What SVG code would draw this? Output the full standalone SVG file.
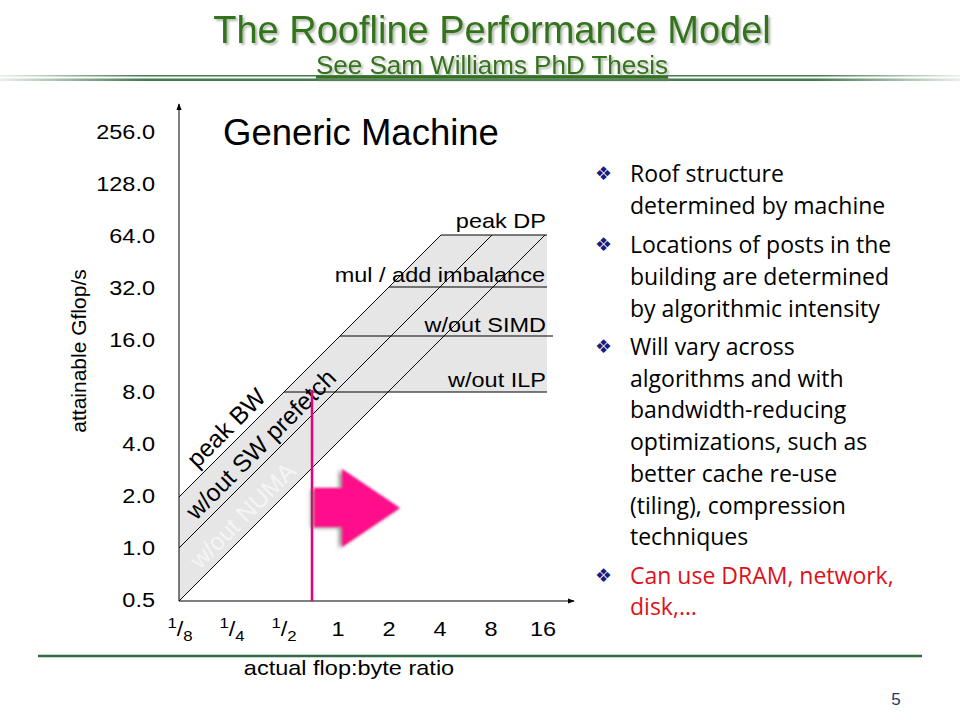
<svg xmlns="http://www.w3.org/2000/svg" width="960" height="720" viewBox="0 0 960 720">
<defs>
<style>
.ct{font-family:"Liberation Sans",Arial,sans-serif;font-size:21px;fill:#000}
.rt{font-family:"Liberation Sans",Arial,sans-serif;font-size:24.5px;fill:#000}
.bl{font-family:"Open Sans","Noto Sans",sans-serif;font-size:23px;fill:#000}
.bu{font-family:"DejaVu Sans",sans-serif;font-size:19px;fill:#1a1a80}
.ln{stroke:#000;stroke-width:1;fill:none}
.ttl{font-family:"Liberation Sans",Arial,sans-serif;text-anchor:middle}
</style>
<linearGradient id="hg" x1="0" y1="0" x2="1" y2="0">
<stop offset="0" stop-color="#2f6b3a" stop-opacity="0.1"/>
<stop offset="0.15" stop-color="#2f6b3a" stop-opacity="0.9"/>
<stop offset="0.85" stop-color="#2f6b3a" stop-opacity="0.9"/>
<stop offset="1" stop-color="#2f6b3a" stop-opacity="0.1"/>
</linearGradient>
<marker id="ah" viewBox="0 0 8 8" refX="7" refY="4" markerWidth="7" markerHeight="7" orient="auto" markerUnits="userSpaceOnUse">
<path d="M0,1 L8,4 L0,7 Z" fill="#000"/>
</marker>
<filter id="soft" x="-20%" y="-20%" width="140%" height="140%">
<feGaussianBlur in="SourceAlpha" stdDeviation="2"/>
<feOffset dx="-3" dy="1" result="b"/>
<feFlood flood-color="#555" flood-opacity="0.7"/>
<feComposite in2="b" operator="in" result="s"/>
<feGaussianBlur in="SourceGraphic" stdDeviation="0.8" result="g"/>
<feMerge><feMergeNode in="s"/><feMergeNode in="g"/></feMerge>
</filter>
<filter id="tsh" x="-5%" y="-20%" width="110%" height="140%">
<feGaussianBlur in="SourceAlpha" stdDeviation="1"/>
<feOffset dx="1.5" dy="1.5" result="b"/>
<feFlood flood-color="#7a8a70" flood-opacity="0.6"/>
<feComposite in2="b" operator="in" result="s"/>
<feMerge><feMergeNode in="s"/><feMergeNode in="SourceGraphic"/></feMerge>
</filter>
</defs>
<rect width="960" height="720" fill="#fff"/>

<g id="header">
<text class="ttl" x="492" y="43" font-size="38" fill="#33731a" filter="url(#tsh)">The Roofline Performance Model</text>
<rect x="0" y="75" width="960" height="1.5" fill="url(#hg)"/>
<rect x="0" y="78.5" width="960" height="2.5" fill="url(#hg)"/>
<text class="ttl" x="492" y="74" font-size="26" fill="#33731a" text-decoration="underline" filter="url(#tsh)">See Sam Williams PhD Thesis</text>
</g>

<g id="chart-area">
<polygon points="179,497 441,235 547,235 547,392 388,392 179,601" fill="#e6e6e6"/>
</g>

<g id="connectors">
<line class="ln" x1="179" y1="601" x2="179" y2="104" marker-end="url(#ah)"/>
<line class="ln" x1="179" y1="601" x2="574" y2="601" marker-end="url(#ah)"/>
<line class="ln" x1="179" y1="497" x2="441" y2="235"/>
<line class="ln" x1="179" y1="548" x2="492" y2="235"/>
<line class="ln" x1="179" y1="601" x2="545" y2="235"/>
<line class="ln" x1="441" y1="235" x2="547" y2="235"/>
<line class="ln" x1="389" y1="287" x2="547" y2="287"/>
<line class="ln" x1="340" y1="336" x2="553" y2="336"/>
<line class="ln" x1="284" y1="392" x2="547" y2="392"/>
</g>

<g id="roof-labels">
<text class="ct" text-anchor="end" transform="translate(546,228) scale(1.12,1)">peak DP</text>
<text class="ct" text-anchor="end" transform="translate(545,282) scale(1.12,1)">mul / add imbalance</text>
<text class="ct" text-anchor="end" transform="translate(546,332) scale(1.12,1)">w/out SIMD</text>
<text class="ct" text-anchor="end" transform="translate(546,387) scale(1.12,1)">w/out ILP</text>
<text class="rt" transform="translate(197,469) rotate(-45)">peak BW</text>
<text class="rt" transform="translate(196,521) rotate(-45)">w/out SW prefetch</text>
<text class="rt" transform="translate(200,570) rotate(-45)" style="fill:#f5f5f5">w/out NUMA</text>
</g>

<g id="y-axis-labels">
<text class="ct" text-anchor="end" transform="translate(155,139) scale(1.12,1)">256.0</text>
<text class="ct" text-anchor="end" transform="translate(155,191) scale(1.12,1)">128.0</text>
<text class="ct" text-anchor="end" transform="translate(155,243) scale(1.12,1)">64.0</text>
<text class="ct" text-anchor="end" transform="translate(155,295) scale(1.12,1)">32.0</text>
<text class="ct" text-anchor="end" transform="translate(155,347) scale(1.12,1)">16.0</text>
<text class="ct" text-anchor="end" transform="translate(155,399) scale(1.12,1)">8.0</text>
<text class="ct" text-anchor="end" transform="translate(155,451) scale(1.12,1)">4.0</text>
<text class="ct" text-anchor="end" transform="translate(155,503) scale(1.12,1)">2.0</text>
<text class="ct" text-anchor="end" transform="translate(155,555) scale(1.12,1)">1.0</text>
<text class="ct" text-anchor="end" transform="translate(155,607) scale(1.12,1)">0.5</text>
<text class="ct" text-anchor="middle" transform="translate(86,351) rotate(-90)" font-size="24">attainable Gflop/s</text>
</g>

<g id="x-axis-labels">
<text class="ct" text-anchor="middle" transform="translate(180,636) scale(1.12,1)"><tspan font-size="15" dy="-8">1</tspan><tspan dy="8">/</tspan><tspan font-size="15" dy="5">8</tspan></text>
<text class="ct" text-anchor="middle" transform="translate(232,636) scale(1.12,1)"><tspan font-size="15" dy="-8">1</tspan><tspan dy="8">/</tspan><tspan font-size="15" dy="5">4</tspan></text>
<text class="ct" text-anchor="middle" transform="translate(284,636) scale(1.12,1)"><tspan font-size="15" dy="-8">1</tspan><tspan dy="8">/</tspan><tspan font-size="15" dy="5">2</tspan></text>
<text class="ct" text-anchor="middle" transform="translate(338,636) scale(1.12,1)">1</text>
<text class="ct" text-anchor="middle" transform="translate(389,636) scale(1.12,1)">2</text>
<text class="ct" text-anchor="middle" transform="translate(440,636) scale(1.12,1)">4</text>
<text class="ct" text-anchor="middle" transform="translate(491,636) scale(1.12,1)">8</text>
<text class="ct" text-anchor="middle" transform="translate(543,636) scale(1.12,1)">16</text>
<text class="ct" text-anchor="middle" transform="translate(349,675) scale(1.12,1)">actual flop:byte ratio</text>
</g>

<g id="generic-machine">
<text x="223" y="145" font-family="Liberation Sans, Arial, sans-serif" font-size="36.5" fill="#000">Generic Machine</text>
</g>

<g id="marker-arrow">
<line x1="312" y1="390" x2="312" y2="601" stroke="#e6007e" stroke-width="2.5"/>
<polygon points="314,488 342,488 342,469 400,508 342,547 342,527 314,527" fill="#ff0a8a" filter="url(#soft)"/>
</g>

<g id="bullets">
<text class="bu" x="595" y="180">❖</text>
<text class="bl" x="630" y="182">Roof structure</text>
<text class="bl" x="630" y="214">determined by machine</text>
<text class="bu" x="595" y="251">❖</text>
<text class="bl" x="630" y="253">Locations of posts in the</text>
<text class="bl" x="630" y="285">building are determined</text>
<text class="bl" x="630" y="317">by algorithmic intensity</text>
<text class="bu" x="595" y="353">❖</text>
<text class="bl" x="630" y="355">Will vary across</text>
<text class="bl" x="630" y="387">algorithms and with</text>
<text class="bl" x="630" y="418">bandwidth-reducing</text>
<text class="bl" x="630" y="450">optimizations, such as</text>
<text class="bl" x="630" y="482">better cache re-use</text>
<text class="bl" x="630" y="514">(tiling), compression</text>
<text class="bl" x="630" y="545">techniques</text>
<text class="bu" x="595" y="582">❖</text>
<text class="bl" x="630" y="584" style="fill:#e0101a">Can use DRAM, network,</text>
<text class="bl" x="630" y="615" style="fill:#e0101a">disk,…</text>
</g>

<g id="footer">
<line x1="38" y1="656" x2="922" y2="656" stroke="#2f6b45" stroke-width="2.5"/>
<text x="896" y="705" font-family="Liberation Sans, Arial, sans-serif" font-size="17" fill="#1f3864" text-anchor="middle">5</text>
</g>
</svg>
